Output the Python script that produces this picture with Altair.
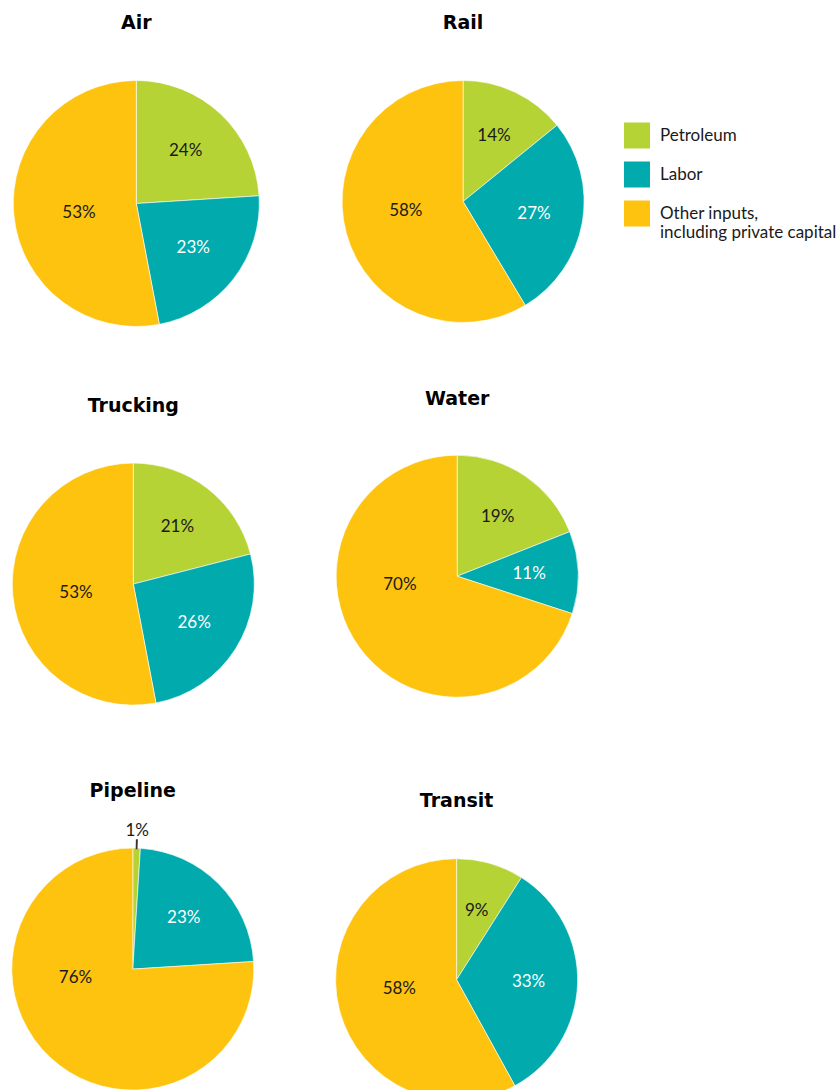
import altair as alt
import pandas as pd

# ---- data ----
modes = ["Air", "Rail", "Trucking", "Water", "Pipeline", "Transit"]
categories = ["Petroleum", "Labor", "Other inputs,\nincluding private capital"]
petroleum = [24, 14, 21, 19, 1, 9]
labor = [23, 27, 26, 11, 23, 33]
other = [53, 58, 53, 70, 76, 58]

colors = ["#B5D334", "#00AAAD", "#FDC30F"]

rows = []
for i, m in enumerate(modes):
    for k, (cat, vals) in enumerate(zip(categories, [petroleum, labor, other])):
        rows.append({"mode": m, "category": cat, "order": k, "value": vals[i]})
df = pd.DataFrame(rows)

# ---- layout (panel sizes / title offsets) ----
layout = {
    "Air":      dict(w=248.6, h=246.0, r=123, offset=46.7),
    "Trucking": dict(w=242.6, h=257.6, r=121, offset=38.9),
    "Pipeline": dict(w=241.6, h=242.0, r=121, offset=20.7),
    "Rail":     dict(w=255.4, h=242.0, r=121, offset=46.7),
    "Water":    dict(w=243.6, h=301.2, r=121, offset=17.1),
    "Transit":  dict(w=242.4, h=242.0, r=121, offset=46.7),
}

LABEL_FONT = "Lato"
TEXT_DARK = "#1a1a1a"
theta_scale = alt.Scale(domain=[0, 1])

color_enc = alt.Color(
    "category:N",
    scale=alt.Scale(domain=categories, range=colors),
    legend=alt.Legend(
        title=None,
        orient="none",
        legendX=612,
        legendY=42,
        symbolType="square",
        symbolSize=676,
        symbolStrokeWidth=0,
        symbolOpacity=1,
        labelFont=LABEL_FONT,
        labelFontSize=17,
        labelColor=TEXT_DARK,
        labelOffset=10,
        labelLimit=300,
        rowPadding=13,
        labelExpr="split(datum.label, '\\n')",
    ),
)


def panel(m):
    p = layout[m]
    base = (
        alt.Chart(df)
        .transform_filter(alt.datum.mode == m)
        .transform_joinaggregate(total="sum(value)")
        .transform_window(cum="sum(value)", sort=[alt.SortField("order")], frame=[None, 0])
        .transform_calculate(
            start="(datum.cum - datum.value) / datum.total",
            end="datum.cum / datum.total",
        )
        .transform_calculate(
            mid="(datum.start + datum.end) / 2",
            lbl="datum.value + '%'",
        )
        .transform_calculate(
            label_t="datum.order == 2 ? (max(datum.start, 0.5) + 1) / 2 - 0.025 : datum.mid",
            lt1="datum.mid - 0.0012",
            lt2="datum.mid + 0.0012",
        )
    )
    arcs = base.mark_arc(outerRadius=p["r"], stroke="white", strokeWidth=0.6).encode(
        theta=alt.Theta("start:Q", scale=theta_scale),
        theta2="end:Q",
        color=color_enc,
        order=alt.Order("order:Q"),
    )
    txt_color = alt.condition(alt.datum.order == 1, alt.value("white"), alt.value(TEXT_DARK))
    inner = base.transform_filter("datum.order < 2 && datum.value >= 5").mark_text(
        radius=72, font=LABEL_FONT, fontSize=17
    ).encode(theta=alt.Theta("label_t:Q", scale=theta_scale), text="lbl:N", color=txt_color)
    big = base.transform_filter("datum.order == 2").mark_text(
        radius=58, font=LABEL_FONT, fontSize=17
    ).encode(theta=alt.Theta("label_t:Q", scale=theta_scale), text="lbl:N", color=txt_color)
    outside = base.transform_filter("datum.value < 5").mark_text(
        radius=p["r"] + 17, font=LABEL_FONT, fontSize=17, color=TEXT_DARK
    ).encode(theta=alt.Theta("mid:Q", scale=theta_scale), text="lbl:N")
    leader = base.transform_filter("datum.value < 5").mark_arc(
        innerRadius=p["r"] - 1, outerRadius=p["r"] + 9, color="#333333"
    ).encode(theta=alt.Theta("lt1:Q", scale=theta_scale), theta2="lt2:Q")

    return alt.layer(arcs, leader, inner, big, outside).properties(
        width=p["w"],
        height=p["h"],
        title=alt.TitleParams(
            text=m,
            font="DejaVu Sans",
            fontSize=19,
            fontWeight="bold",
            color="black",
            anchor="middle",
            baseline="top",
            offset=p["offset"],
        ),
    )


left = alt.vconcat(panel("Air"), panel("Trucking"), panel("Pipeline"), spacing=68.8)
right = alt.vconcat(panel("Rail"), panel("Water"), panel("Transit"), spacing=64.1)

chart = (
    alt.hconcat(left, right, spacing=73.4)
    .properties(padding={"left": 10, "top": 13.5, "right": 0, "bottom": 0}, background="white")
    .configure_view(stroke=None)
)

chart.save("out.html", embed_options={"renderer": "svg", "actions": False})
